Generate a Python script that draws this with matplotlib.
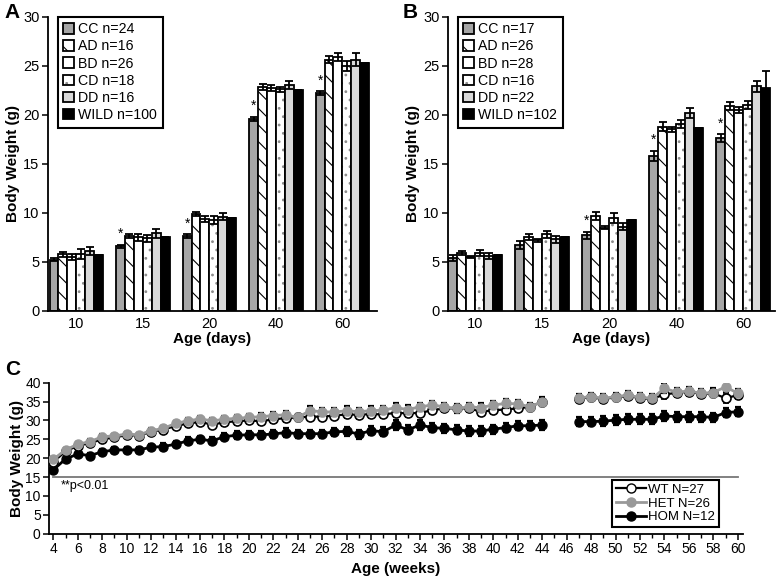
import numpy as np
import matplotlib
matplotlib.use("Agg")
import matplotlib.pyplot as plt
from matplotlib.ticker import MultipleLocator
from matplotlib.lines import Line2D

plt.rcParams['font.family'] = ['Liberation Sans', 'DejaVu Sans']
plt.rcParams['hatch.linewidth'] = 0.8

# Panels A and B: body weight by genotype at each age
ages = ["10", "15", "20", "40", "60"]
groups = ["CC", "AD", "BD", "CD", "DD", "WILD"]
n_a = [24, 16, 26, 18, 16, 100]
n_b = [17, 26, 28, 16, 22, 102]

weight_a = [
    [5.2, 6.6, 7.6, 19.6, 22.2],
    [5.8, 7.6, 9.9, 22.8, 25.6],
    [5.5, 7.5, 9.4, 22.7, 25.9],
    [5.8, 7.4, 9.3, 22.6, 25.0],
    [6.1, 7.9, 9.6, 23.0, 25.6],
    [5.7, 7.5, 9.5, 22.5, 25.3],
]
err_a = [
    [0.15, 0.15, 0.2, 0.2, 0.2],
    [0.25, 0.2, 0.2, 0.3, 0.35],
    [0.3, 0.35, 0.3, 0.3, 0.4],
    [0.5, 0.35, 0.4, 0.25, 0.5],
    [0.4, 0.5, 0.35, 0.4, 0.65],
    [0.0, 0.0, 0.0, 0.0, 0.0],
]
weight_b = [
    [5.4, 6.7, 7.7, 15.8, 17.6],
    [5.9, 7.5, 9.7, 18.8, 20.9],
    [5.5, 7.2, 8.5, 18.5, 20.5],
    [5.9, 7.8, 9.5, 19.1, 21.0],
    [5.6, 7.3, 8.6, 20.2, 22.9],
    [5.7, 7.5, 9.3, 18.7, 22.7],
]
err_b = [
    [0.3, 0.4, 0.4, 0.5, 0.4],
    [0.2, 0.3, 0.4, 0.45, 0.45],
    [0.1, 0.15, 0.15, 0.25, 0.3],
    [0.3, 0.4, 0.5, 0.4, 0.45],
    [0.3, 0.35, 0.35, 0.5, 0.55],
    [0.0, 0.0, 0.0, 0.0, 1.8],
]
stars_a = [1, 2, 3, 4]   # age indices with * above CC
stars_b = [2, 3, 4]

# Panel C: body weight over weeks (weeks 45-46 missing)
weeks = list(range(4, 45)) + [45, 46] + list(range(47, 61))
wt = [19.0, 21.8, 23.3, 24.0, 25.0, 25.5, 26.1, 26.0, 27.0, 27.6, 28.5, 29.2, 29.6, 28.9,
      29.5, 29.8, 30.0, 29.8, 30.3, 30.6, 30.8, 31.0, 31.0, 31.3, 31.6, 31.5, 31.7, 31.6,
      32.0, 31.9, 32.0, 32.7, 33.2, 33.2, 33.2, 32.3, 32.7, 32.9, 33.2, 33.6, 35.0,
      np.nan, np.nan,
      35.8, 36.1, 35.7, 36.1, 36.5, 35.9, 35.7, 36.9, 37.3, 37.6, 37.0, 37.2, 35.9, 36.7]
het = [19.7, 22.2, 23.7, 24.4, 25.7, 25.9, 26.4, 26.2, 27.3, 27.9, 29.2, 29.9, 30.4, 29.9,
       30.3, 30.6, 30.8, 31.0, 31.3, 31.5, 30.8, 32.6, 32.3, 32.2, 32.6, 32.3, 32.6, 32.7,
       33.4, 32.9, 33.6, 34.1, 33.6, 33.2, 33.6, 33.4, 34.1, 34.5, 34.4, 33.6, 35.0,
       np.nan, np.nan,
       36.0, 36.3, 35.9, 36.3, 36.7, 36.1, 35.9, 38.5, 37.5, 37.8, 37.2, 37.4, 38.9, 37.2]
hom = [16.9, 19.8, 21.1, 20.7, 21.7, 22.2, 22.2, 22.2, 22.9, 23.1, 23.7, 24.6, 25.0, 24.6,
       25.7, 26.1, 26.2, 26.2, 26.4, 26.8, 26.5, 26.5, 26.5, 27.0, 27.1, 26.4, 27.3, 27.0,
       28.8, 27.5, 28.8, 28.1, 27.9, 27.5, 27.2, 27.2, 27.7, 28.1, 28.6, 28.6, 28.8,
       np.nan, np.nan,
       29.7, 29.7, 29.8, 30.1, 30.3, 30.3, 30.3, 31.2, 31.0, 31.0, 31.0, 30.8, 32.1, 32.3]
wt_err = [0.5, 0.5, 0.6, 0.6, 0.6, 0.6, 0.6, 0.6, 0.7, 0.7, 0.7, 0.8, 0.8, 0.8,
          0.9, 0.9, 0.9, 0.9, 0.9, 0.9, 1.0, 1.0, 1.0, 1.0, 1.0, 1.0, 1.0, 1.0,
          1.0, 1.0, 1.0, 1.0, 1.0, 1.0, 1.0, 1.0, 1.0, 1.0, 1.0, 1.0, 1.1,
          np.nan, np.nan,
          1.0, 1.0, 1.0, 1.0, 1.0, 1.0, 1.0, 1.1, 1.0, 1.0, 1.0, 1.0, 1.2, 1.1]
het_err = [0.5, 0.5, 0.5, 0.6, 0.6, 0.6, 0.6, 0.6, 0.7, 0.7, 0.7, 0.8, 0.8, 0.8,
           0.9, 0.9, 0.9, 1.0, 1.0, 1.0, 1.0, 1.1, 1.1, 1.1, 1.1, 1.1, 1.1, 1.1,
           1.1, 1.1, 1.1, 1.1, 1.1, 1.1, 1.1, 1.1, 1.1, 1.1, 1.1, 1.1, 1.2,
           np.nan, np.nan,
           1.1, 1.1, 1.1, 1.1, 1.1, 1.1, 1.1, 1.3, 1.1, 1.1, 1.1, 1.1, 1.3, 1.1]
hom_err = [0.6, 0.6, 0.6, 0.7, 0.7, 0.7, 0.7, 0.7, 0.8, 0.8, 0.8, 0.9, 0.9, 0.9,
           1.0, 1.0, 1.0, 1.0, 1.1, 1.1, 1.1, 1.1, 1.1, 1.1, 1.2, 1.2, 1.2, 1.2,
           1.2, 1.2, 1.2, 1.2, 1.2, 1.2, 1.2, 1.2, 1.2, 1.2, 1.2, 1.2, 1.3,
           np.nan, np.nan,
           1.3, 1.3, 1.3, 1.3, 1.3, 1.3, 1.3, 1.4, 1.3, 1.3, 1.3, 1.3, 1.3, 1.2]

faces = ["#a6a6a6", "white", "white", "white", "#d9d9d9", "black"]
hatches = [None, "\\\\", None, "..", None, None]
hatch_colors = ["black", "black", "black", "#8c8c8c", "black", "black"]

fig = plt.figure(figsize=(7.77, 5.76), dpi=100)


def style_axes(ax):
    for s in ["top", "right"]:
        ax.spines[s].set_visible(False)
    for s in ["left", "bottom"]:
        ax.spines[s].set_linewidth(1.3)
    ax.tick_params(direction="out", length=4, width=1.1)


def bar_panel(ax, weights, errs, ns, stars, xlim):
    x = np.arange(len(ages))
    w = 0.134
    handles = []
    for i, g in enumerate(groups):
        pos = x + (i - 2.5) * w
        # fill + hatch (hatch takes the edge colour), then a black outline on top
        fill = ax.bar(pos, weights[i], w, color=faces[i], edgecolor=hatch_colors[i],
                      linewidth=0, hatch=hatches[i])
        line = ax.bar(pos, weights[i], w, yerr=errs[i], fill=False, edgecolor="black",
                      linewidth=1.3,
                      error_kw=dict(ecolor="black", elinewidth=1.3, capsize=3, capthick=1.3))
        handles.append((fill.patches[0], line.patches[0]))
    for j in stars:
        top = weights[0][j] + errs[0][j]
        ax.text(x[j] - 2.5 * w, top + 1.1, "*", ha="center", va="center", fontsize=10)
    ax.set_xlim(*xlim)
    ax.set_ylim(0, 30)
    ax.set_yticks(range(0, 31, 5))
    ax.set_xticks(x)
    ax.set_xticklabels(ages)
    ax.tick_params(axis="x", length=0, labelsize=10.5, pad=4)
    ax.tick_params(axis="y", labelsize=10.5, pad=2)
    ax.set_xlabel("Age (days)", fontsize=11, fontweight="bold", labelpad=1)
    ax.set_ylabel("Body Weight (g)", fontsize=11, fontweight="bold", labelpad=2)
    labels = [f"{g} n={n}" for g, n in zip(groups, ns)]
    leg = ax.legend(handles, labels, loc="upper left", bbox_to_anchor=(0.03, 1.0),
                    borderaxespad=0, fontsize=10.2, labelspacing=0.22, handlelength=0.75,
                    handleheight=0.75, handletextpad=0.3, borderpad=0.4, fancybox=False,
                    framealpha=1)
    leg.get_frame().set_edgecolor("black")
    leg.get_frame().set_linewidth(1.5)


ax_a = fig.add_axes([0.0614, 0.4601, 0.4238, 0.5110])
style_axes(ax_a)
bar_panel(ax_a, weight_a, err_a, n_a, stars_a, (-0.43, 4.52))

ax_b = fig.add_axes([0.5762, 0.4601, 0.4212, 0.5110])
style_axes(ax_b)
bar_panel(ax_b, weight_b, err_b, n_b, stars_b, (-0.41, 4.47))

ax_c = fig.add_axes([0.0631, 0.0734, 0.8932, 0.2622])
style_axes(ax_c)
ebar = dict(ecolor="black", elinewidth=1.4, capsize=2.5, capthick=1.6)
ax_c.errorbar(weeks, hom, yerr=hom_err, color="black", lw=2, marker="o", ms=6.5,
              mfc="black", mec="black", zorder=3, **ebar)
ax_c.errorbar(weeks, wt, yerr=wt_err, color="black", lw=1.6, marker="o", ms=6.5,
              mfc="white", mec="black", mew=1.2, zorder=4, **ebar)
ax_c.errorbar(weeks, het, yerr=het_err, color="#999999", lw=2, marker="o", ms=6.5,
              mfc="#999999", mec="#999999", zorder=5, **ebar)
ax_c.plot([4, 60], [15, 15], color="#777777", lw=1.3)
ax_c.text(4.6, 14.3, "**p<0.01", fontsize=9, va="top")
ax_c.set_xlim(3.65, 60.43)
ax_c.set_ylim(0, 40)
ax_c.set_yticks(range(0, 41, 5))
ax_c.xaxis.set_minor_locator(MultipleLocator(1))
ax_c.set_xticks(range(4, 61, 2))
ax_c.tick_params(axis="x", which="minor", direction="out", length=3, width=1)
ax_c.tick_params(labelsize=10, pad=2)
ax_c.set_xlabel("Age (weeks)", fontsize=11, fontweight="bold", labelpad=4)
ax_c.set_ylabel("Body Weight (g)", fontsize=11, fontweight="bold", labelpad=1)
handles = [
    Line2D([], [], color="black", lw=1.6, marker="o", ms=6.5, mfc="white", mec="black"),
    Line2D([], [], color="#999999", lw=2, marker="o", ms=6.5, mfc="#999999", mec="#999999"),
    Line2D([], [], color="black", lw=2, marker="o", ms=6.5, mfc="black", mec="black"),
]
leg = ax_c.legend(handles, ["WT N=27", "HET N=26", "HOM N=12"], loc="lower right",
                  bbox_to_anchor=(0.965, 0.042), borderaxespad=0, fontsize=9.5,
                  labelspacing=0.12, handlelength=2.3, handletextpad=0.15, borderpad=0.3,
                  fancybox=False, framealpha=1)
leg.get_frame().set_edgecolor("black")
leg.get_frame().set_linewidth(1.5)

fig.text(0.006, 0.995, "A", fontsize=15, fontweight="bold", va="top")
fig.text(0.518, 0.995, "B", fontsize=15, fontweight="bold", va="top")
fig.text(0.006, 0.375, "C", fontsize=15, fontweight="bold", va="top")

fig.savefig("out.png", dpi=100)
